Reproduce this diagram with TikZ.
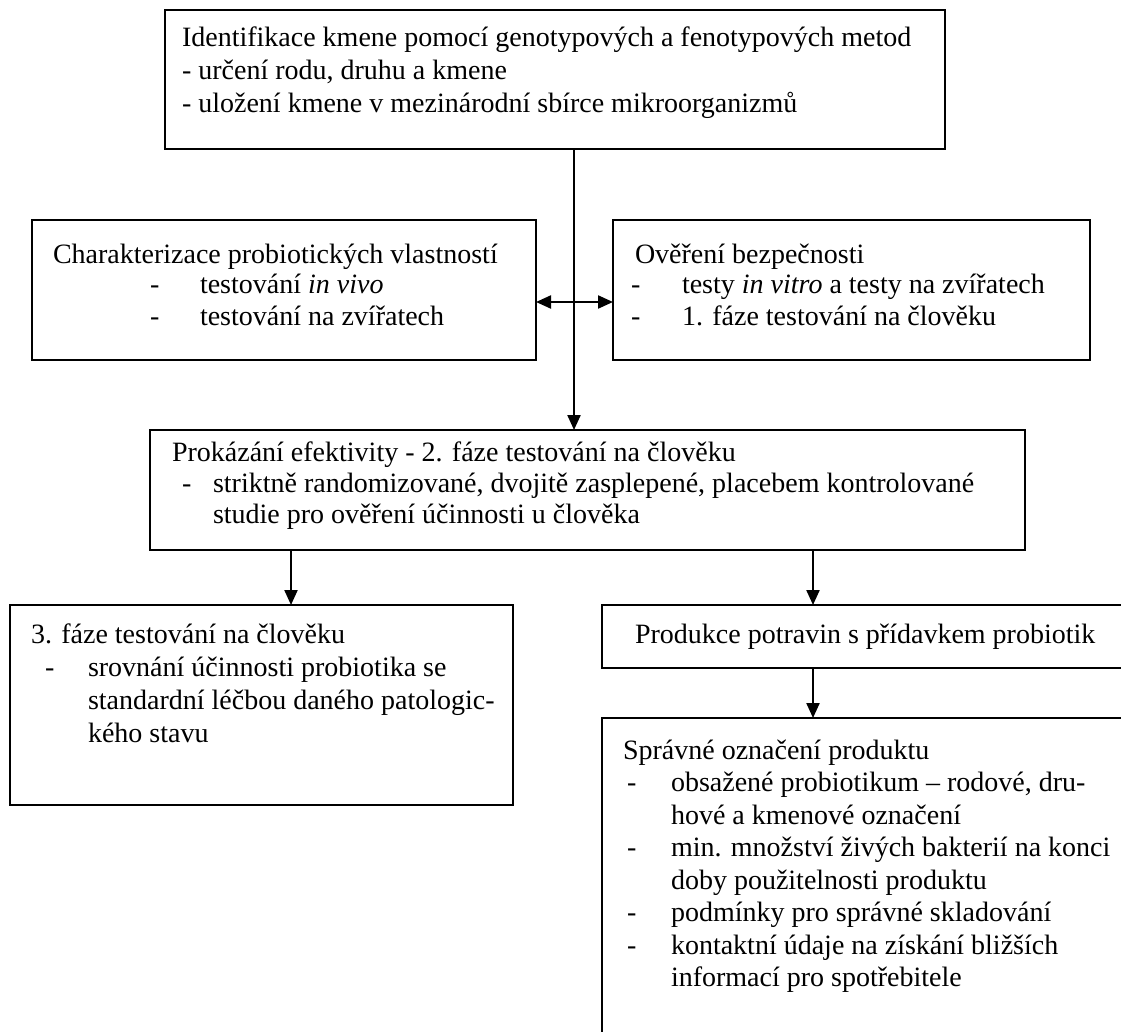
\documentclass[tikz,border=0pt]{standalone}
\usepackage{fontspec}
\setmainfont{Liberation Serif}
\usetikzlibrary{arrows.meta}
\begin{document}
\begin{tikzpicture}[x=1pt,y=-1pt,
  box/.style={draw=black, line width=1.5pt, rectangle, inner sep=0pt, outer sep=0pt, anchor=north west},
  txt/.style={inner sep=0pt, outer sep=0pt, anchor=base west, font=\fontsize{28pt}{32.5pt}\selectfont},
  conn/.style={line width=2.2pt, -{Triangle[length=15pt,width=13pt]}},
  dconn/.style={line width=2.2pt, {Triangle[length=15pt,width=13pt]}-{Triangle[length=15pt,width=13pt]}}]
\useasboundingbox (0,0) rectangle (1121,1032);
\clip (0,0) rectangle (1121,1032);
% boxes
\node[box, minimum width=780pt, minimum height=139pt] (top) at (165,10) {};
\node[box, minimum width=504pt, minimum height=140pt] (left) at (32,220) {};
\node[box, minimum width=477pt, minimum height=140pt] (right) at (613,220) {};
\node[box, minimum width=875pt, minimum height=120pt] (mid) at (150,430) {};
\node[box, minimum width=503pt, minimum height=200pt] (bl) at (10,605) {};
\node[box, minimum width=540pt, minimum height=63pt] (prod) at (602,605) {};
\node[box, minimum width=540pt, minimum height=340pt] (spr) at (602,718) {};
% connectors
\coordinate (vx) at (574,0);
\coordinate (ay) at (0,302);
\coordinate (lx) at (291,0);
\coordinate (rx) at (813,0);
\draw[conn] (top.south -| vx) -- (mid.north -| vx);
\draw[dconn] (left.east |- ay) -- (right.west |- ay);
\draw[conn] (mid.south -| lx) -- (bl.north -| lx);
\draw[conn] (mid.south -| rx) -- (prod.north -| rx);
\draw[conn] (prod.south -| rx) -- (spr.north -| rx);
% top texts
\node[txt] (t1) at (182,47) {Identifikace kmene pomocí genotypových a fenotypových metod};
\node[txt] (t2) at (182,80) {- určení rodu, druhu a kmene};
\node[txt] (t3) at (182,113) {- uložení kmene v mezinárodní sbírce mikroorganizmů};
% left box
\node[txt] (l1) at (53,263) {Charakterizace probiotických vlastností};
\node[txt] (l2d) at (150,294) {-};
\node[txt] (l2) at (200,294) {testování \textit{in vivo}};
\node[txt] (l3d) at (150,325) {-};
\node[txt] (l3) at (200,325) {testování na zvířatech};
% right box
\node[txt] (r1) at (635,263) {Ověření bezpečnosti};
\node[txt] (r2d) at (631,294) {-};
\node[txt] (r2) at (682,294) {testy \textit{in vitro} a testy na zvířatech};
\node[txt] (r3d) at (631,325) {-};
\node[txt] (r3) at (682,325) {1. fáze testování na člověku};
% middle box
\node[txt] (m1) at (172,461) {Prokázání efektivity - 2. fáze testování na člověku};
\node[txt] (m2d) at (182,492) {-};
\node[txt] (m2) at (213,492) {striktně randomizované, dvojitě zasplepené, placebem kontrolované};
\node[txt] (m3) at (213,523) {studie pro ověření účinnosti u člověka};
% bottom left
\node[txt] (b1) at (31,643) {3. fáze testování na člověku};
\node[txt] (b2d) at (45,676) {-};
\node[txt] (b2) at (88,676) {srovnání účinnosti probiotika se};
\node[txt] (b3) at (88,709) {standardní léčbou daného patologic-};
\node[txt] (b4) at (88,742) {kého stavu};
% produkce
\node[txt] (p1) at (635,643) {Produkce potravin s přídavkem probiotik};
% spravne
\node[txt] (s1) at (623,759) {Správné označení produktu};
\node[txt] (s2d) at (627,791) {-};
\node[txt] (s2) at (671,791) {obsažené probiotikum – rodové, dru-};
\node[txt] (s3) at (671,824) {hové a kmenové označení};
\node[txt] (s4d) at (627,856) {-};
\node[txt] (s4) at (671,856) {min. množství živých bakterií na konci};
\node[txt] (s5) at (671,889) {doby použitelnosti produktu};
\node[txt] (s6d) at (627,921) {-};
\node[txt] (s6) at (671,921) {podmínky pro správné skladování};
\node[txt] (s7d) at (627,954) {-};
\node[txt] (s7) at (671,954) {kontaktní údaje na získání bližších};
\node[txt] (s8) at (671,986) {informací pro spotřebitele};
\end{tikzpicture}
\end{document}
